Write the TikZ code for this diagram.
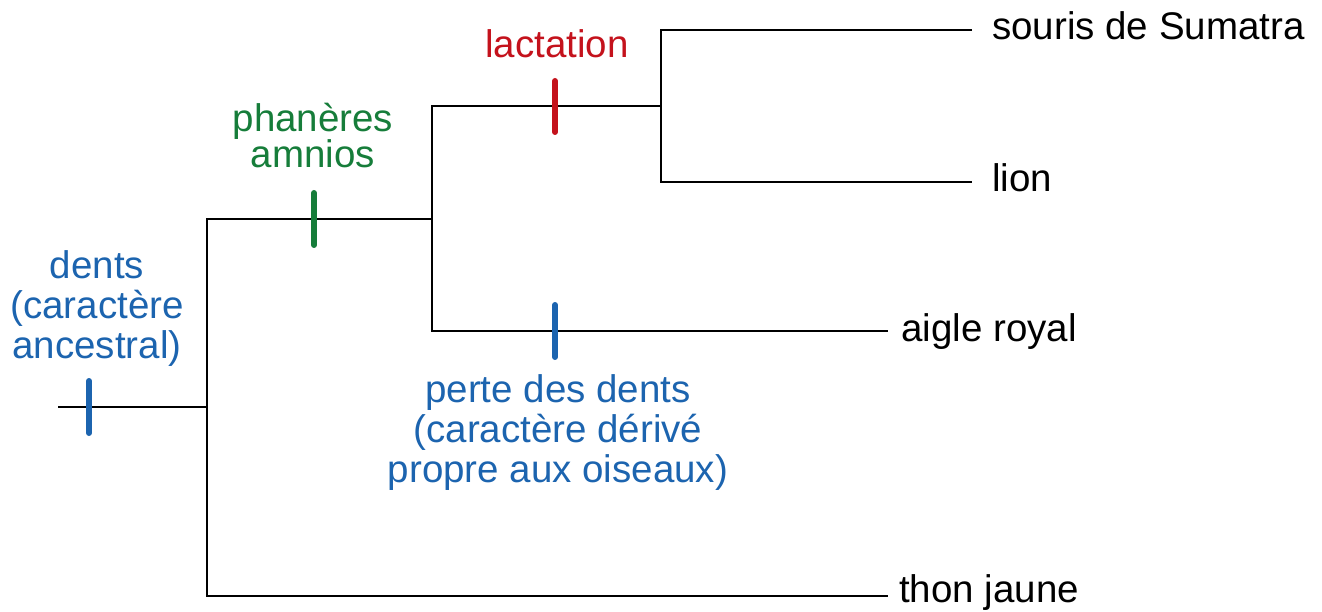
\documentclass[tikz,border=0pt]{standalone}
\usepackage{fontspec}
\setmainfont{Liberation Sans}
\usepackage{xcolor}
\usepackage{tikz}
\usetikzlibrary{calc}
\usetikzlibrary{arrows.meta}
\usetikzlibrary{positioning}
\tikzset{>=latex}
\definecolor{cblue}{RGB}{28,100,175}
\definecolor{cgreen}{RGB}{22,125,58}
\definecolor{cred}{RGB}{196,18,28}
\tikzstyle{branch} = [-, draw=black, line width=2.2pt]
\tikzstyle{tick} = [-, line width=6pt, line cap=round]
\tikzstyle{leaf} = [draw=none, anchor=west, inner ysep=0, text height=28pt, text depth=8pt]
\tikzstyle{lbl} = [draw=none, align=center, anchor=base, inner sep=0]

\begin{document}
\begin{tikzpicture}[x=1pt, y=-1pt, font=\fontsize{38.5}{40}\selectfont]
\useasboundingbox (0,0) rectangle (1322,612);
% branching points
\coordinate (R) at (58, 407);
\coordinate (N0) at (207, 407);
\coordinate (N1) at (432, 219);
\coordinate (N2) at (661, 106);
% taxa
\node [leaf, inner xsep=20] (Su) at (972, 30) {souris de Sumatra};
\node [leaf, inner xsep=20] (Li) at (972, 182) {lion};
\node [leaf, inner xsep=13] (Ai) at (888, 331) {aigle royal};
\node [leaf, inner xsep=11, text depth=15pt] (Th) at (888, 596) {thon jaune};
\draw [branch] (R) to (N0);
\draw [branch] (N1) -| (N0) |- (Th.west);
\draw [branch] (N2) -| (N1) |- (Ai.west);
\draw [branch] (Su.west) -| (N2) |- (Li.west);
% characters
\draw [tick, draw=cblue] (89, 381) -- (89, 433);
\draw [tick, draw=cgreen] (314, 193) -- (314, 245);
\draw [tick, draw=cred] (555, 81) -- (555, 132);
\draw [tick, draw=cblue] (555, 305) -- (555, 357);
\node [lbl, text=cblue] (D) at (97, 358) {dents\\(caractère\\ancestral)};
\node [lbl, text=cgreen, font=\fontsize{38.5}{35}\selectfont] (P) at (313, 168) {phanères\\amnios};
\node [lbl, text=cred] (La) at (557, 58) {lactation};
\node [lbl, text=cblue] (Pe) at (558, 482) {perte des dents\\(caractère dérivé\\propre aux oiseaux)};
\end{tikzpicture}
\end{document}
